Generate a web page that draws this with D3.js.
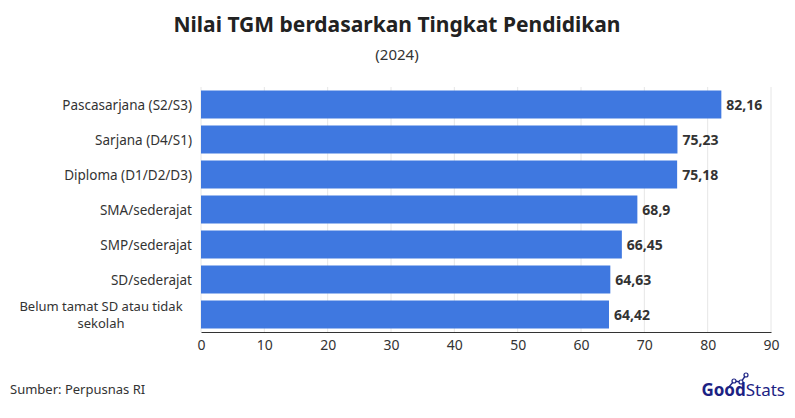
<!DOCTYPE html>
<html>
<head>
<meta charset="utf-8">
<script src="https://cdn.jsdelivr.net/npm/d3@7"></script>
<style>
body { margin: 0; background: #fff; font-family: "Noto Sans", sans-serif; }
</style>
</head>
<body>
<svg id="svg" width="795" height="418"></svg>
<script>
// chart data
const categories = ["Pascasarjana (S2/S3)", "Sarjana  (D4/S1)", "Diploma (D1/D2/D3)", "SMA/sederajat", "SMP/sederajat", "SD/sederajat", "Belum tamat SD atau tidak|sekolah"];
const values = [82.16, 75.23, 75.18, 68.9, 66.45, 64.63, 64.42];
const labels = ["82,16", "75,23", "75,18", "68,9", "66,45", "64,63", "64,42"];
const ticks = [0, 10, 20, 30, 40, 50, 60, 70, 80, 90];

const margins = { left: 201, right: 24, top: 87, bottom: 86 };
const dims = { width: 795, height: 418 };

let svg = d3.select('#svg');

let xScale = d3.scaleLinear().domain([0, 90]).range([margins.left, dims.width - margins.right]);
let yScale = d3.scaleBand().domain(categories)
    .range([margins.top, dims.height - margins.bottom]).paddingInner(0.2).paddingOuter(0.1);

// title
svg.append("text").attr("x", 397).attr("y", 32).attr("text-anchor", "middle")
    .attr("font-size", 21).attr("font-weight", "bold").attr("fill", "#222")
    .text("Nilai TGM berdasarkan Tingkat Pendidikan");
svg.append("text").attr("x", 397).attr("y", 60).attr("text-anchor", "middle")
    .attr("font-size", 15).attr("fill", "#333").text("(2024)");

// grid
svg.append("g").selectAll("line").data(ticks).enter().append("line")
    .attr("x1", d => xScale(d)).attr("x2", d => xScale(d))
    .attr("y1", margins.top).attr("y2", dims.height - margins.bottom)
    .attr("stroke", "#e6e6e6");

// bars
svg.append("g").selectAll("rect").data(values).enter().append("rect")
    .attr("x", xScale(0))
    .attr("y", (d, i) => yScale(categories[i]))
    .attr("width", d => xScale(d) - xScale(0))
    .attr("height", yScale.bandwidth())
    .attr("fill", "#3f78e0");

svg.append("g").selectAll("text").data(values).enter().append("text")
    .attr("x", d => xScale(d) + 5)
    .attr("y", (d, i) => yScale(categories[i]) + yScale.bandwidth() / 2 + 5)
    .attr("font-size", 14).attr("font-weight", "bold").attr("fill", "#333")
    .text((d, i) => labels[i]);

// category labels (one text per line)
let catG = svg.append("g");
categories.forEach(d => {
    let parts = d.split("|");
    let cy = yScale(d) + yScale.bandwidth() / 2;
    parts.forEach((p, j) => {
        catG.append("text")
            .attr("x", parts.length > 1 ? margins.left - 100 : margins.left - 9)
            .attr("y", cy + 5 + (j - (parts.length - 1) / 2) * 17)
            .attr("text-anchor", parts.length > 1 ? "middle" : "end")
            .attr("font-size", parts.length > 1 ? 13 : 13.5).attr("fill", "#333")
            .text(p);
    });
});

// x axis
let xAxis = d3.axisBottom(xScale).tickValues(ticks).tickSize(0).tickPadding(8);
let ax = svg.append("g").attr("transform", `translate(0, ${dims.height - margins.bottom})`).call(xAxis);
ax.select(".domain").attr("stroke", "#333");
ax.selectAll("text").attr("font-size", 14).attr("fill", "#333").attr("font-family", "Noto Sans");

// footer
svg.append("text").attr("x", 10).attr("y", 394).attr("font-size", 13).attr("fill", "#333")
    .text("Sumber: Perpusnas RI");
let logo = svg.append("text").attr("x", 785).attr("y", 396).attr("text-anchor", "end").attr("font-size", 17);
logo.append("tspan").attr("font-weight", "bold").attr("fill", "#1c2283").text("Good");
logo.append("tspan").attr("fill", "#1c2283").text("Stats");
let pts = [[728, 388], [734, 381], [741, 382], [746, 375]];
svg.append("path").attr("d", d3.line()(pts)).attr("stroke", "#1c2283").attr("fill", "none").attr("stroke-width", 1.3);
svg.append("g").selectAll("circle").data(pts.slice(1)).enter().append("circle")
    .attr("cx", d => d[0]).attr("cy", d => d[1]).attr("r", 2)
    .attr("fill", "#fff").attr("stroke", "#1c2283").attr("stroke-width", 1.2);
</script>
</body>
</html>
